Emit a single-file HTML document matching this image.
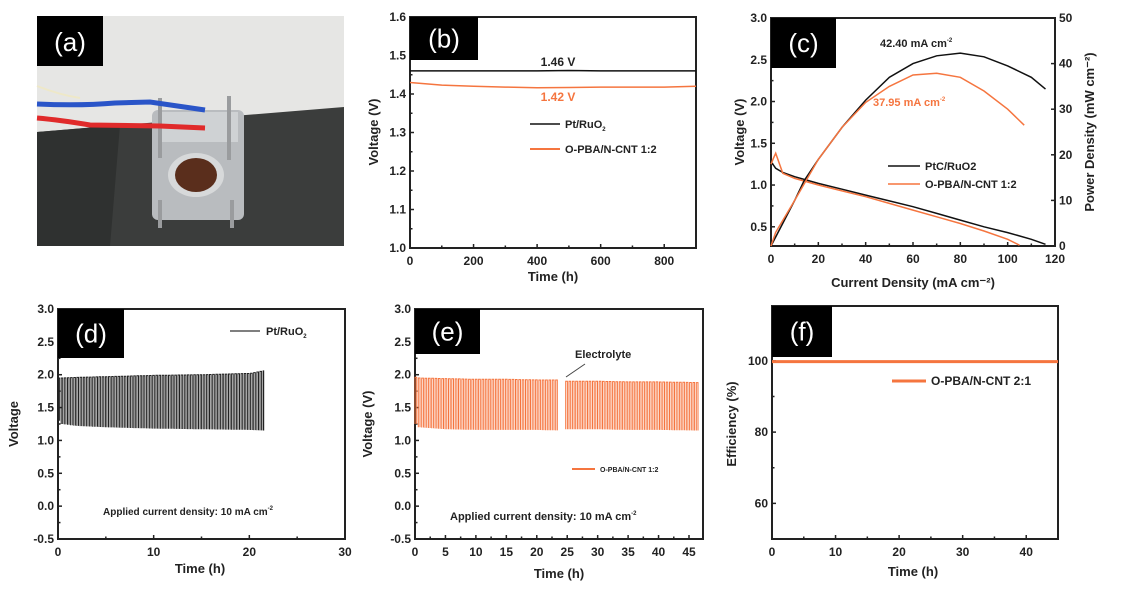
<!DOCTYPE html>
<html><head><meta charset="utf-8"><style>
html,body{margin:0;padding:0;background:#fff;}
svg{display:block;font-family:"Liberation Sans",sans-serif;}
</style></head><body>
<svg id="fig" width="1126" height="592" viewBox="0 0 1126 592">
  <g>
    <rect x="37" y="16" width="307" height="230" fill="#e6e6e4"/>
    <polygon points="37,132 344,107 344,246 37,246" fill="#3b3d3c"/>
    <polygon points="37,132 120,125 110,246 37,246" fill="#2f3130"/>
    <rect x="152" y="110" width="92" height="110" rx="6" fill="#b9bcbf"/>
    <rect x="160" y="112" width="78" height="30" fill="#cfd2d4"/>
    <ellipse cx="196" cy="175" rx="28" ry="22" fill="#d7d9da"/>
    <ellipse cx="196" cy="175" rx="21" ry="17" fill="#5a2e1c"/>
    <rect x="158" y="98" width="4" height="60" fill="#9a9c9e"/>
    <rect x="227" y="96" width="4" height="64" fill="#9a9c9e"/>
    <rect x="158" y="200" width="4" height="28" fill="#9a9c9e"/>
    <rect x="230" y="200" width="4" height="28" fill="#9a9c9e"/>
    <path d="M37,104 Q80,106 115,103 L150,102 L205,110" stroke="#2a55c8" stroke-width="5" fill="none"/>
    <path d="M37,118 Q60,120 90,125 L160,126 L205,128" stroke="#e02a2a" stroke-width="5" fill="none"/>
    <path d="M37,86 Q60,95 80,98" stroke="#eee8c8" stroke-width="2" fill="none"/>
    <rect x="37" y="16" width="66" height="50" fill="#000"/>
    <text x="70" y="51" fill="#fff" font-size="26" text-anchor="middle">(a)</text>
  </g>
</svg>
<script>
// ---- Panel b data ----
const bTime = [0, 100, 200, 300, 400, 500, 600, 700, 800, 900];
const bPt = [1.46, 1.46, 1.46, 1.46, 1.46, 1.461, 1.46, 1.46, 1.46, 1.46];
const bOPBA = [1.43, 1.423, 1.42, 1.418, 1.416, 1.417, 1.418, 1.418, 1.418, 1.42];
const bXTicks = [0, 200, 400, 600, 800];
const bYTicks = [1.0, 1.1, 1.2, 1.3, 1.4, 1.5, 1.6];
// ---- Panel c data ----
const cJPt = [0, 2, 5, 10, 20, 30, 40, 50, 60, 70, 80, 90, 100, 110, 116];
const cVPt = [1.28, 1.2, 1.15, 1.1, 1.02, 0.95, 0.88, 0.81, 0.74, 0.66, 0.58, 0.5, 0.43, 0.35, 0.29];
const cJOp = [0, 1, 2, 5, 10, 20, 30, 40, 50, 60, 70, 80, 90, 100, 105];
const cVOp = [1.25, 1.32, 1.38, 1.14, 1.08, 1.0, 0.93, 0.86, 0.78, 0.7, 0.62, 0.54, 0.45, 0.35, 0.28];
const cPJPt = [0, 10, 14, 20, 30, 40, 50, 60, 70, 80, 90, 100, 110, 116];
const cPPt = [0, 10, 14.3, 19, 26, 32, 37, 40, 41.7, 42.3, 41.5, 39.5, 37, 34.4];
const cPJOp = [0, 2, 10, 20, 30, 40, 50, 60, 70, 80, 90, 100, 107];
const cPOp = [0, 3, 10, 19, 26, 31.5, 35, 37.5, 37.9, 37, 34, 30, 26.5];
const cXTicks = [0, 20, 40, 60, 80, 100, 120];
const cYTicks = [0.5, 1.0, 1.5, 2.0, 2.5, 3.0];
const cY2Ticks = [0, 10, 20, 30, 40, 50];
// ---- Panel d data ----
const dTime = [0, 0.3, 2, 5, 10, 15, 20, 21.5];
const dTop = [1.95, 1.95, 1.96, 1.97, 1.99, 2.0, 2.02, 2.06];
const dBottom = [1.3, 1.25, 1.22, 1.2, 1.18, 1.17, 1.16, 1.15];
const dXTicks = [0, 10, 20, 30];
const dYTicks = [-0.5, 0.0, 0.5, 1.0, 1.5, 2.0, 2.5, 3.0];
// ---- Panel e data ----
const eTime = [0, 0.5, 5, 10, 15, 20, 24, 24.5, 30, 35, 40, 46.5];
const eTop = [1.96, 1.95, 1.94, 1.93, 1.93, 1.92, 1.92, 1.9, 1.9, 1.89, 1.89, 1.88];
const eBottom = [1.25, 1.2, 1.17, 1.16, 1.16, 1.16, 1.15, 1.17, 1.17, 1.16, 1.16, 1.15];
const eXTicks = [0, 5, 10, 15, 20, 25, 30, 35, 40, 45];
const eYTicks = [-0.5, 0.0, 0.5, 1.0, 1.5, 2.0, 2.5, 3.0];
// ---- Panel f data ----
const fTime = [0, 45];
const fEff = [99.8, 99.8];
const fXTicks = [0, 10, 20, 30, 40];
const fYTicks = [60, 80, 100];

const NS = 'http://www.w3.org/2000/svg';
const svg = document.getElementById('fig');
const BLACK = '#111', ORANGE = '#f5753f';
function mk(tag, attrs, parent) {
  const e = document.createElementNS(NS, tag);
  for (const k in attrs) e.setAttribute(k, attrs[k]);
  (parent || svg).appendChild(e);
  return e;
}
function txt(x, y, s, opts, parent) {
  const t = mk('text', Object.assign({x: x, y: y, 'font-size': 12, 'font-weight': 'bold', fill: '#222'}, opts || {}), parent);
  t.textContent = s;
  return t;
}
// text with a trailing small super/subscript
function txtSup(x, y, main, sup, opts, parent, sub) {
  const t = txt(x, y, main, opts, parent);
  const ts = mk('tspan', {'font-size': 6, dy: sub ? 3 : -5}, t);
  ts.textContent = sup;
  return t;
}
function lin(x0, x1, p0, p1) { return v => p0 + (v - x0) / (x1 - x0) * (p1 - p0); }
function interp(xs, ys, x) {
  for (let i = 0; i < xs.length - 1; i++) if (x <= xs[i + 1]) return ys[i] + (ys[i + 1] - ys[i]) * (x - xs[i]) / (xs[i + 1] - xs[i]);
  return ys[ys.length - 1];
}
function pathOf(xs, ys, X, Y) { return xs.map((v, i) => (i ? 'L' : 'M') + X(v).toFixed(1) + ',' + Y(ys[i]).toFixed(1)).join(''); }

function frame(g, L, T, R, B, X, Y, xt, yt, xfmt, yfmt, minorX, minorY) {
  mk('rect', {x: L, y: T, width: R - L, height: B - T, fill: 'none', stroke: '#222', 'stroke-width': 2}, g);
  xt.forEach(v => { mk('line', {x1: X(v), x2: X(v), y1: B, y2: B - 4, stroke: '#222', 'stroke-width': 1.5}, g);
    txt(X(v), B + 17, xfmt(v), {'text-anchor': 'middle'}, g); });
  yt.forEach(v => { mk('line', {x1: L, x2: L + 4, y1: Y(v), y2: Y(v), stroke: '#222', 'stroke-width': 1.5}, g);
    txt(L - 4, Y(v) + 4, yfmt(v), {'text-anchor': 'end'}, g); });
  (minorX || []).forEach(v => mk('line', {x1: X(v), x2: X(v), y1: B, y2: B - 2.5, stroke: '#222', 'stroke-width': 1.5}, g));
  (minorY || []).forEach(v => mk('line', {x1: L, x2: L + 2.5, y1: Y(v), y2: Y(v), stroke: '#222', 'stroke-width': 1.5}, g));
}
function labelBox(g, x, y, w, h, s, name) {
  mk('rect', {x: x, y: y, width: w, height: h, fill: '#000'}, g);
  const t = txt(x + w / 2, y + h / 2 + 9, s, {fill: '#fff', 'font-size': 26, 'font-weight': 'normal', 'text-anchor': 'middle'}, g);
  
  
}
function yTitle(g, x, y, s, name) {
  const t = txt(x, y, s, {transform: 'rotate(-90 ' + x + ' ' + y + ')', 'text-anchor': 'middle', 'font-size': 13}, g);
  
  
}
function xTitle(g, x, y, s, name) {
  const t = txt(x, y, s, {'text-anchor': 'middle', 'font-size': 13}, g);
  
  
}
function cycling(g, times, tops, bots, period, X, Y, color, gapAt) {
  let d = '';
  const tEnd = times[times.length - 1];
  for (let t = times[0]; t < tEnd; t += period) {
    if (gapAt !== undefined && t > gapAt - period && t < gapAt + period * 0.5) continue;
    const a = X(t), b = X(Math.min(t + period / 2, tEnd));
    const tp = Y(interp(times, tops, t)), bt = Y(interp(times, bots, t));
    d += 'M' + a.toFixed(1) + ',' + bt.toFixed(1) + 'L' + a.toFixed(1) + ',' + tp.toFixed(1) + 'L' + b.toFixed(1) + ',' + tp.toFixed(1) + 'L' + b.toFixed(1) + ',' + bt.toFixed(1);
  }
  return mk('path', {d: d, stroke: color, 'stroke-width': 1, fill: 'none'}, g);
}
const f1 = v => v.toFixed(1);
const f0 = v => String(v);

// ===== Panel b =====
{
  const g = mk('g', {});
  
  
  const L = 410, R = 696, T = 17, B = 248;
  const X = lin(0, 900, L, R), Y = lin(1.0, 1.6, B, T);
  frame(g, L, T, R, B, X, Y, bXTicks, bYTicks, f0, f1, [100, 300, 500, 700], [1.05, 1.15, 1.25, 1.35, 1.45, 1.55]);
  const l1 = mk('path', {d: pathOf(bTime, bPt, X, Y), stroke: BLACK, 'stroke-width': 1.5, fill: 'none'}, g);
  
  
  const l2 = mk('path', {d: pathOf(bTime, bOPBA, X, Y), stroke: ORANGE, 'stroke-width': 1.5, fill: 'none'}, g);
  
  
  labelBox(g, 410, 17, 68, 43, '(b)', 'panel-label-b');
  txt(558, 66, '1.46 V', {'text-anchor': 'middle', fill: '#222'}, g);
  txt(558, 101, '1.42 V', {'text-anchor': 'middle', fill: ORANGE}, g);
  const lg = mk('g', {}, g);
  
  
  mk('line', {x1: 530, x2: 560, y1: 124, y2: 124, stroke: BLACK, 'stroke-width': 1.5}, lg);
  txtSup(565, 128, 'Pt/RuO', '2', {'font-size': 11}, lg, true);
  mk('line', {x1: 530, x2: 560, y1: 149, y2: 149, stroke: ORANGE, 'stroke-width': 2}, lg);
  txt(565, 153, 'O-PBA/N-CNT 1:2', {'font-size': 11}, lg);
  yTitle(g, 378, 132, 'Voltage (V)', 'y-axis-title-b');
  xTitle(g, 553, 281, 'Time (h)', 'x-axis-title-b');
}
// ===== Panel c =====
{
  const g = mk('g', {});
  
  
  const L = 771, R = 1055, T = 18, B = 246;
  const X = lin(0, 120, L, R), Y = lin(0.27, 3.0, B, T), Y2 = lin(0, 50, B, T);
  frame(g, L, T, R, B, X, Y, cXTicks, cYTicks, f0, f1, [10, 30, 50, 70, 90, 110], [0.75, 1.25, 1.75, 2.25, 2.75]);
  cY2Ticks.forEach(v => { mk('line', {x1: R, x2: R - 4, y1: Y2(v), y2: Y2(v), stroke: '#222', 'stroke-width': 1.5}, g);
    txt(R + 4, Y2(v) + 4, String(v), {}, g); });
  [[cJPt, cVPt, BLACK, Y, 'voltage-curve-ptc'], [cJOp, cVOp, ORANGE, Y, 'voltage-curve-opba'],
   [cPJPt, cPPt, BLACK, Y2, 'power-curve-ptc'], [cPJOp, cPOp, ORANGE, Y2, 'power-curve-opba']].forEach(s => {
    const p = mk('path', {d: pathOf(s[0], s[1], X, s[3]), stroke: s[2], 'stroke-width': 1.5, fill: 'none'}, g);
    
    
  });
  labelBox(g, 771, 18, 65, 50, '(c)', 'panel-label-c');
  txtSup(880, 47, '42.40 mA cm', '-2', {'font-size': 11}, g);
  txtSup(873, 106, '37.95 mA cm', '-2', {'font-size': 11, fill: ORANGE}, g);
  const lg = mk('g', {}, g);
  
  
  mk('line', {x1: 888, x2: 920, y1: 166, y2: 166, stroke: BLACK, 'stroke-width': 1.5}, lg);
  txt(925, 170, 'PtC/RuO2', {'font-size': 11}, lg);
  mk('line', {x1: 888, x2: 920, y1: 184, y2: 184, stroke: ORANGE, 'stroke-width': 1.5}, lg);
  txt(925, 188, 'O-PBA/N-CNT 1:2', {'font-size': 11}, lg);
  yTitle(g, 744, 132, 'Voltage (V)', 'y-axis-title-c');
  yTitle(g, 1094, 132, 'Power Density (mW cm\u207B\u00B2)', 'y2-axis-title-c');
  xTitle(g, 913, 287, 'Current Density (mA cm\u207B\u00B2)', 'x-axis-title-c');
}
// ===== Panel d =====
{
  const g = mk('g', {});
  
  
  const L = 58, R = 345, T = 309, B = 539;
  const X = lin(0, 30, L, R), Y = lin(-0.5, 3.0, B, T);
  frame(g, L, T, R, B, X, Y, dXTicks, dYTicks, f0, f1, [5, 15, 25], [-0.25, 0.25, 0.75, 1.25, 1.75, 2.25, 2.75]);
  const c = cycling(g, dTime, dTop, dBottom, 0.33, X, Y, '#222');
  
  
  labelBox(g, 58, 309, 66, 49, '(d)', 'panel-label-d');
  const lg = mk('g', {}, g);
  
  
  mk('line', {x1: 230, x2: 260, y1: 331, y2: 331, stroke: '#555', 'stroke-width': 1.5}, lg);
  txtSup(266, 335, 'Pt/RuO', '2', {'font-size': 11}, lg, true);
  txtSup(103, 515, 'Applied current density: 10 mA cm', '-2', {'font-size': 10}, g);
  yTitle(g, 18, 424, 'Voltage', 'y-axis-title-d');
  xTitle(g, 200, 573, 'Time (h)', 'x-axis-title-d');
}
// ===== Panel e =====
{
  const g = mk('g', {});
  
  
  const L = 415, R = 703, T = 309, B = 539;
  const X = lin(0, 47.3, L, R), Y = lin(-0.5, 3.0, B, T);
  frame(g, L, T, R, B, X, Y, eXTicks, eYTicks, f0, f1, [2.5, 7.5, 12.5, 17.5, 22.5, 27.5, 32.5, 37.5, 42.5], [-0.25, 0.25, 0.75, 1.25, 1.75, 2.25, 2.75]);
  const c = cycling(g, eTime, eTop, eBottom, 0.55, X, Y, ORANGE, 24.2);
  
  
  labelBox(g, 415, 309, 65, 45, '(e)', 'panel-label-e');
  txt(575, 358, 'Electrolyte', {'font-size': 11}, g);
  mk('line', {x1: 585, x2: 566, y1: 364, y2: 377, stroke: '#444', 'stroke-width': 1}, g);
  const lg = mk('g', {}, g);
  
  
  mk('line', {x1: 572, x2: 595, y1: 469, y2: 469, stroke: ORANGE, 'stroke-width': 2}, lg);
  txt(600, 472, 'O-PBA/N-CNT 1:2', {'font-size': 7}, lg);
  txtSup(450, 520, 'Applied current density: 10 mA cm', '-2', {'font-size': 11}, g);
  yTitle(g, 372, 424, 'Voltage (V)', 'y-axis-title-e');
  xTitle(g, 559, 578, 'Time (h)', 'x-axis-title-e');
}
// ===== Panel f =====
{
  const g = mk('g', {});
  
  
  const L = 772, R = 1058, T = 306, B = 539;
  const X = lin(0, 45, L, R), Y = lin(50, 115.4, B, T);
  frame(g, L, T, R, B, X, Y, fXTicks, fYTicks, f0, f0, [5, 15, 25, 35], [70, 90]);
  const p = mk('path', {d: pathOf(fTime, fEff, X, Y), stroke: ORANGE, 'stroke-width': 3, fill: 'none'}, g);
  
  
  labelBox(g, 772, 306, 60, 51, '(f)', 'panel-label-f');
  const lg = mk('g', {}, g);
  
  
  mk('line', {x1: 892, x2: 926, y1: 381, y2: 381, stroke: ORANGE, 'stroke-width': 3}, lg);
  txt(931, 385, 'O-PBA/N-CNT 2:1', {'font-size': 12}, lg);
  yTitle(g, 736, 424, 'Efficiency (%)', 'y-axis-title-f');
  xTitle(g, 913, 576, 'Time (h)', 'x-axis-title-f');
}
</script>
</body></html>
